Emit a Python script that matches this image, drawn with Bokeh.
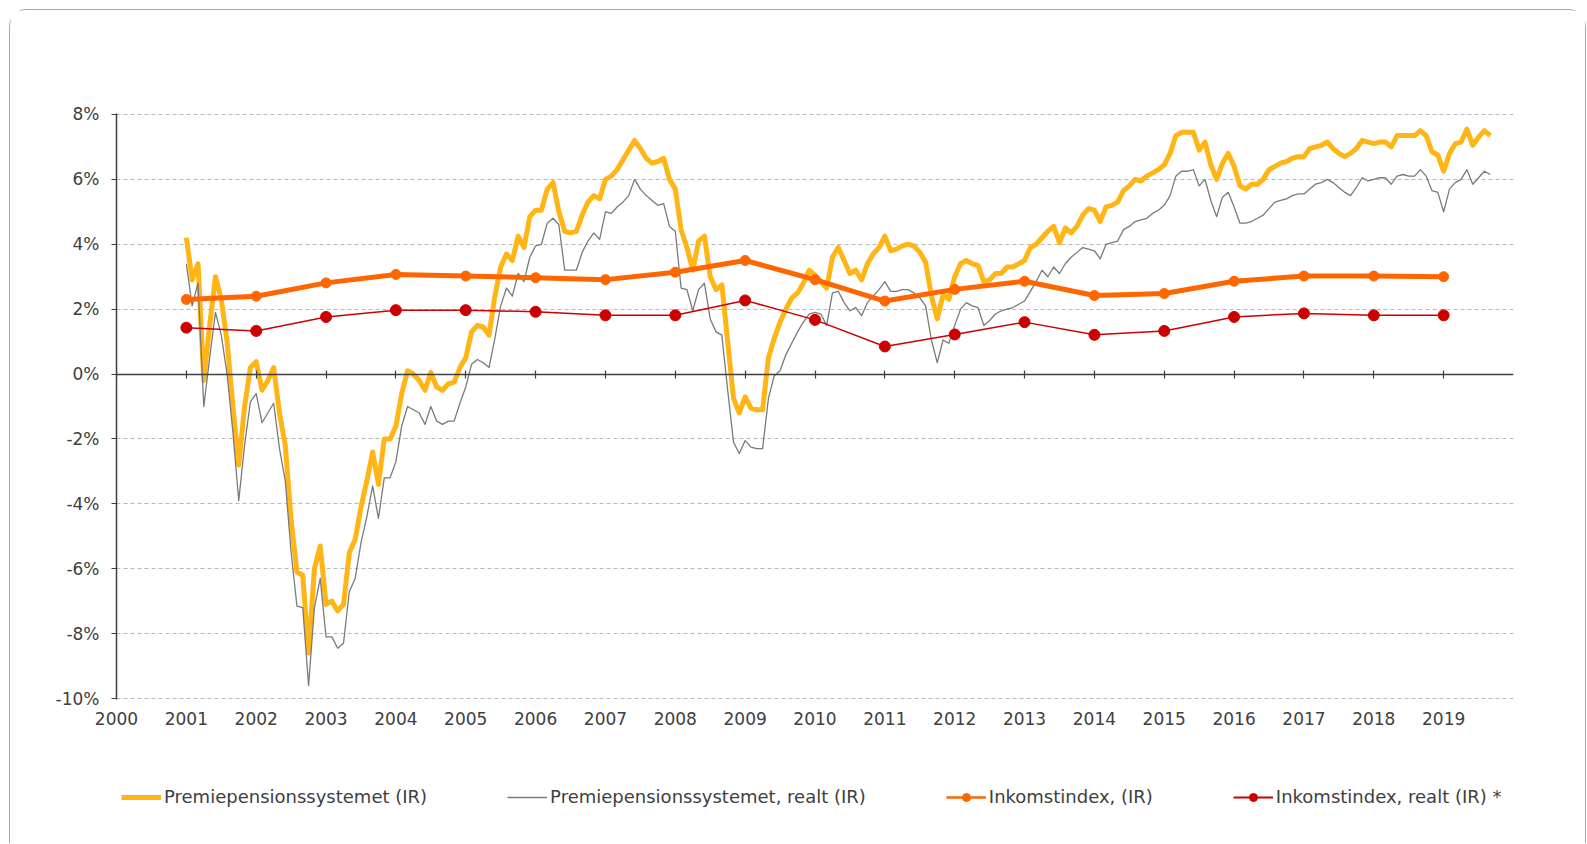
from bokeh.plotting import figure
from bokeh.layouts import column
from bokeh.models import (Range1d, LinearAxis, FixedTicker, PrintfTickFormatter, Grid,
                          Legend, LegendItem, ColumnDataSource)
from bokeh.embed import file_html
from bokeh.resources import INLINE

# ---- data (percent) ----
start_year = 2001  # first monthly observation: January 2001
premiepension = [
    4.2, 2.9, 3.4, -0.2, 1.5, 3.0, 2.3, 1.0, -1.0, -2.8,
    -1.0, 0.2, 0.38, -0.5, -0.2, 0.2, -1.2, -2.2, -4.5, -6.1,
    -6.2, -8.6, -6.0, -5.3, -7.1, -7.0, -7.3, -7.1, -5.5, -5.1,
    -4.1, -3.3, -2.4, -3.4, -2.0, -2.0, -1.6, -0.6, 0.1, 0.0,
    -0.2, -0.5, 0.05, -0.4, -0.5, -0.3, -0.25, 0.2, 0.5, 1.3,
    1.5, 1.45, 1.2, 2.4, 3.3, 3.7, 3.5, 4.25, 3.9, 4.85,
    5.05, 5.05, 5.7, 5.9, 5.0, 4.4, 4.35, 4.4, 4.9, 5.3,
    5.5, 5.4, 6.0, 6.1, 6.3, 6.6, 6.9, 7.2, 6.95, 6.65,
    6.5, 6.55, 6.65, 6.0, 5.7, 4.45, 3.9, 3.2, 4.1, 4.25,
    3.0, 2.6, 2.75, 1.0, -0.75, -1.2, -0.7, -1.05, -1.1, -1.1,
    0.5, 1.1, 1.6, 2.0, 2.35, 2.5, 2.8, 3.2, 3.05, 2.85,
    2.65, 3.6, 3.9, 3.5, 3.1, 3.2, 2.9, 3.4, 3.7, 3.9,
    4.25, 3.8, 3.85, 3.95, 4.0, 3.95, 3.75, 3.45, 2.4, 1.7,
    2.45, 2.3, 3.0, 3.4, 3.5, 3.4, 3.35, 2.85, 2.9, 3.1,
    3.1, 3.3, 3.3, 3.4, 3.5, 3.9, 4.0, 4.2, 4.4, 4.55,
    4.05, 4.5, 4.35, 4.55, 4.9, 5.1, 5.05, 4.7, 5.15, 5.2,
    5.3, 5.65, 5.8, 6.0, 5.95, 6.1, 6.2, 6.3, 6.45, 6.8,
    7.35, 7.45, 7.45, 7.45, 6.9, 7.15, 6.45, 6.0, 6.5, 6.8,
    6.4, 5.8, 5.7, 5.85, 5.85, 6.0, 6.3, 6.4, 6.5, 6.55,
    6.65, 6.7, 6.7, 6.95, 7.0, 7.05, 7.15, 6.95, 6.8, 6.7,
    6.8, 6.95, 7.2, 7.15, 7.1, 7.15, 7.15, 7.0, 7.35, 7.35,
    7.35, 7.35, 7.5, 7.35, 6.85, 6.75, 6.25, 6.8, 7.1, 7.15,
    7.55, 7.05, 7.3, 7.5, 7.35,
]
premiepension_realt = [
    3.4, 2.1, 2.8, -1.0, 0.5, 1.9, 1.2, 0.0, -1.8, -3.9,
    -2.2, -0.86, -0.6, -1.5, -1.2, -0.9, -2.3, -3.3, -5.5, -7.15,
    -7.2, -9.6, -7.2, -6.3, -8.1, -8.1, -8.45, -8.3, -6.7, -6.3,
    -5.2, -4.4, -3.45, -4.45, -3.2, -3.2, -2.7, -1.6, -1.0, -1.1,
    -1.2, -1.55, -1.0, -1.45, -1.55, -1.45, -1.45, -0.9, -0.4, 0.3,
    0.45, 0.35, 0.2, 1.1, 2.1, 2.65, 2.4, 3.1, 2.85, 3.6,
    3.95, 4.0, 4.65, 4.8, 4.6, 3.2, 3.2, 3.2, 3.75, 4.1,
    4.35, 4.15, 5.0, 4.95, 5.15, 5.3, 5.5, 6.0, 5.7, 5.5,
    5.35, 5.2, 5.25, 4.55, 4.4, 2.65, 2.6, 1.95, 2.6, 2.8,
    1.7, 1.3, 1.2, -0.5, -2.1, -2.45, -2.05, -2.25, -2.3, -2.3,
    -0.75, -0.05, 0.1, 0.6, 0.95, 1.3, 1.6, 1.85, 1.9, 1.85,
    1.5, 2.5, 2.55, 2.2, 1.95, 2.05, 1.8, 2.2, 2.4, 2.6,
    2.85, 2.55, 2.55, 2.6, 2.6, 2.5, 2.35, 2.1, 1.05, 0.35,
    1.05, 0.95, 1.5, 2.0, 2.2, 2.1, 2.05, 1.5, 1.65, 1.85,
    1.95, 2.0, 2.05, 2.15, 2.25, 2.55, 2.85, 3.2, 3.0, 3.3,
    3.1, 3.4, 3.6, 3.75, 3.9, 3.85, 3.8, 3.55, 4.0, 4.05,
    4.1, 4.45, 4.55, 4.7, 4.75, 4.8, 4.95, 5.05, 5.2, 5.5,
    6.1, 6.25, 6.25, 6.3, 5.8, 6.0, 5.35, 4.85, 5.45, 5.6,
    5.15, 4.65, 4.65, 4.7, 4.8, 4.9, 5.1, 5.3, 5.35, 5.4,
    5.5, 5.55, 5.55, 5.7, 5.85, 5.9, 6.0, 5.9, 5.75, 5.6,
    5.5, 5.75, 6.05, 5.95, 6.0, 6.05, 6.05, 5.85, 6.1, 6.15,
    6.1, 6.1, 6.3, 6.1, 5.65, 5.6, 5.0, 5.7, 5.9, 6.0,
    6.3, 5.85, 6.05, 6.25, 6.15,
]
index_years = list(range(2001, 2020))
inkomstindex = [2.30, 2.40, 2.81, 3.07, 3.02, 2.97, 2.91, 3.14, 3.50, 2.91,
                2.25, 2.61, 2.86, 2.42, 2.48, 2.86, 3.02, 3.02, 3.00]
inkomstindex_realt = [1.43, 1.33, 1.76, 1.97, 1.97, 1.92, 1.81, 1.81, 2.27, 1.67,
                      0.85, 1.22, 1.60, 1.21, 1.33, 1.76, 1.87, 1.81, 1.81]
x_tick_years = list(range(2000, 2020))
y_ticks = [-10, -8, -6, -4, -2, 0, 2, 4, 6, 8]
labels = ["Premiepensionssystemet (IR)", "Premiepensionssystemet, realt (IR)",
          "Inkomstindex, (IR)", "Inkomstindex, realt (IR) *"]

months = [start_year + i / 12 for i in range(len(premiepension))]
months_r = [start_year + i / 12 for i in range(len(premiepension_realt))]

FONT = "DejaVu Sans"
TXT = "#404040"
C_P, C_R, C_I, C_IR = "#FFB515", "#7a7a7a", "#FF6600", "#CC0000"

W, H1, H2 = 1575, 750, 83
p = figure(width=W, height=H1, output_backend="svg", toolbar_location=None,
           x_range=Range1d(2000, 2020), y_range=Range1d(-10.03, 8.03),
           x_axis_type=None, y_axis_type=None,
           min_border_left=106, min_border_right=72, min_border_top=103,
           min_border_bottom=61)
p.outline_line_color = None
p.background_fill_color = "white"
p.border_fill_color = "white"

# y axis
yaxis = LinearAxis(ticker=FixedTicker(ticks=y_ticks),
                   formatter=PrintfTickFormatter(format="%d%%"))
yaxis.axis_line_color = TXT
yaxis.axis_line_width = 1.5
yaxis.major_tick_line_color = TXT
yaxis.major_tick_in = 0
yaxis.major_tick_out = 5
yaxis.minor_tick_line_color = None
yaxis.major_label_standoff = 12
yaxis.major_label_text_font = FONT
yaxis.major_label_text_font_size = "17px"
yaxis.major_label_text_color = TXT
p.add_layout(yaxis, "left")

# grid
grid = Grid(dimension=1, ticker=yaxis.ticker)
grid.grid_line_color = "#b8b8b8"
grid.grid_line_dash = "4 3"
grid.grid_line_width = 1
p.add_layout(grid)

# x labels at bottom
xlab = LinearAxis(ticker=FixedTicker(ticks=x_tick_years))
xlab.axis_line_color = None
xlab.major_tick_line_color = None
xlab.minor_tick_line_color = None
xlab.major_tick_out = 0
xlab.major_tick_in = 0
xlab.major_label_standoff = 12
xlab.major_label_text_font = FONT
xlab.major_label_text_font_size = "17px"
xlab.major_label_text_color = TXT
p.add_layout(xlab, "below")

# zero axis with ticks
zaxis = LinearAxis(ticker=FixedTicker(ticks=x_tick_years), fixed_location=0)
zaxis.axis_line_color = TXT
zaxis.axis_line_width = 1.5
zaxis.major_tick_line_color = TXT
zaxis.major_tick_line_width = 1.2
zaxis.major_tick_in = 4
zaxis.major_tick_out = 4
zaxis.minor_tick_line_color = None
zaxis.major_label_text_font_size = "0px"
zaxis.major_label_text_alpha = 0
p.add_layout(zaxis, "above")

src_p = ColumnDataSource(dict(x=months, y=premiepension))
src_r = ColumnDataSource(dict(x=months_r, y=premiepension_realt))
src_i = ColumnDataSource(dict(x=index_years, y=inkomstindex, yr=inkomstindex_realt))

p.line("x", "y", source=src_p, line_color=C_P, line_width=5, line_join="round")
p.line("x", "y", source=src_r, line_color=C_R, line_width=1.3, line_join="round")
p.line("x", "y", source=src_i, line_color=C_I, line_width=5, line_join="round")
p.scatter("x", "y", source=src_i, size=10, fill_color=C_I, line_color=C_I)
p.line("x", "yr", source=src_i, line_color=C_IR, line_width=1.5)
p.scatter("x", "yr", source=src_i, size=11, fill_color=C_IR, line_color=C_IR)

# ---- legend strip: a second figure whose (off-range) series only feed the legend ----
q = figure(width=W, height=H2, output_backend="svg", toolbar_location=None,
           x_range=Range1d(2000, 2020), y_range=Range1d(100, 101),
           x_axis_type=None, y_axis_type=None, min_border=0)
q.outline_line_color = None
q.background_fill_color = "white"
q.border_fill_color = "white"
q.xgrid.visible = False
q.ygrid.visible = False
l1 = q.line("x", "y", source=src_p, line_color=C_P, line_width=5)
l2 = q.line("x", "y", source=src_r, line_color=C_R, line_width=1.5)
l3 = q.line("x", "y", source=src_i, line_color=C_I, line_width=2.5)
m3 = q.scatter("x", "y", source=src_i, size=7, fill_color=C_I, line_color=C_I)
l4 = q.line("x", "yr", source=src_i, line_color=C_IR, line_width=2)
m4 = q.scatter("x", "yr", source=src_i, size=7, fill_color=C_IR, line_color=C_IR)

legend = Legend(items=[
    LegendItem(label=labels[0], renderers=[l1]),
    LegendItem(label=labels[1], renderers=[l2]),
    LegendItem(label=labels[2], renderers=[l3, m3]),
    LegendItem(label=labels[3], renderers=[l4, m4]),
], orientation="horizontal", location=(5, 36))
legend.spacing = 80
legend.glyph_width = 40
legend.glyph_height = 20
legend.label_height = 20
legend.label_standoff = 3
legend.padding = 0
legend.margin = 0
legend.border_line_color = None
legend.background_fill_alpha = 0
legend.label_text_font = FONT
legend.label_text_font_size = "18px"
legend.label_text_color = TXT
q.add_layout(legend)

layout = column(p, q, spacing=0)
layout.styles = {"margin-top": "9px", "margin-left": "9px",
                 "border-top": "1px solid #a8a8a8", "border-left": "1px solid #a8a8a8",
                 "border-right": "1px solid #a8a8a8", "border-radius": "18px 18px 0 0"}

open("out.html", "w").write(file_html(layout, INLINE))
